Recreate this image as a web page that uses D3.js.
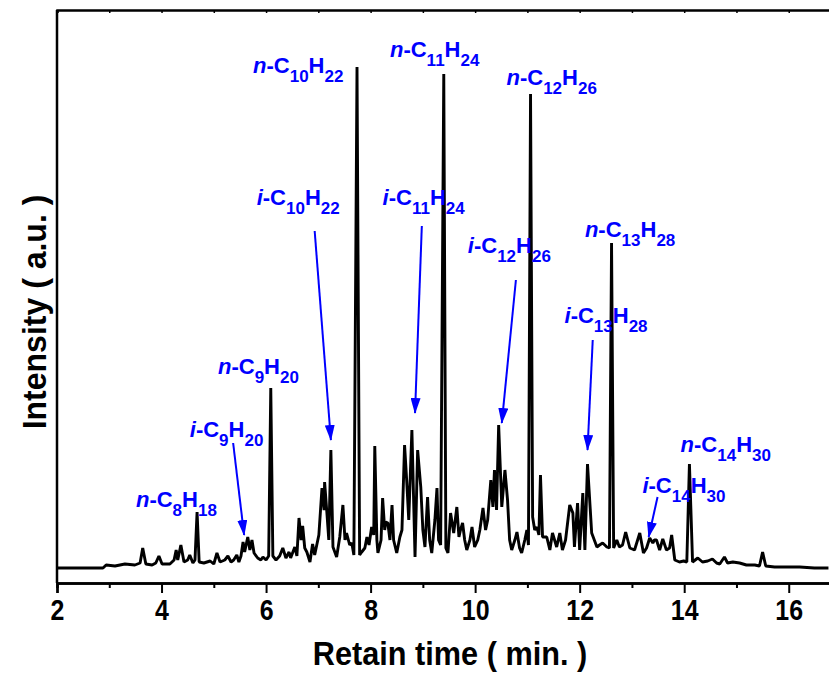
<!DOCTYPE html>
<html>
<head>
<meta charset="utf-8">
<script src="https://cdn.jsdelivr.net/npm/d3@7"></script>
<style>
  body { margin: 0; background: #fff; }
  svg { display: block; }
  .axis-title { font-family: "Liberation Sans", Arial, sans-serif; font-weight: bold; }
  .tick-label { font-family: "Liberation Sans", Arial, sans-serif; font-weight: bold; }
  .peak-label { font-family: "Liberation Sans", Arial, sans-serif; font-weight: bold; fill: #0000ff; }
</style>
</head>
<body>
<div id="chart"></div>
<script>
// retention time (min) and detector intensity (a.u.)
const retTime = [2.00,2.88,2.94,3.11,3.30,3.49,3.59,3.64,3.70,3.82,3.89,3.95,4.01,4.16,4.24,4.28,4.31,4.37,4.43,4.50,
  4.54,4.60,4.64,4.68,4.72,4.81,4.93,5.00,5.06,5.12,5.21,5.27,5.33,5.38,5.44,5.48,5.52,5.56,5.59,5.65,
  5.69,5.73,5.77,5.84,5.90,5.94,6.00,6.05,6.09,6.13,6.19,6.26,6.32,6.38,6.44,6.47,6.55,6.59,6.63,6.67,
  6.70,6.74,6.78,6.84,6.89,6.93,6.97,7.01,7.07,7.11,7.12,7.16,7.20,7.24,7.28,7.35,7.41,7.47,7.51,7.54,
  7.60,7.64,7.68,7.74,7.79,7.83,7.89,7.93,7.97,8.02,8.06,8.08,8.12,8.14,8.20,8.23,8.27,8.29,8.33,8.37,
  8.41,8.44,8.50,8.56,8.60,8.65,8.69,8.73,8.79,8.85,8.90,8.96,9.00,9.04,9.09,9.13,9.17,9.23,9.27,9.30,
  9.34,9.40,9.44,9.48,9.53,9.59,9.65,9.69,9.72,9.76,9.80,9.84,9.90,9.94,9.99,10.05,10.09,10.15,10.20,10.24,
  10.30,10.34,10.37,10.41,10.45,10.51,10.57,10.62,10.66,10.70,10.76,10.80,10.85,10.89,10.95,10.99,11.02,11.06,11.10,11.14,
  11.18,11.22,11.25,11.29,11.37,11.43,11.48,11.56,11.62,11.67,11.73,11.81,11.87,11.90,11.96,12.00,12.06,12.10,12.15,12.23,
  12.33,12.38,12.44,12.52,12.57,12.61,12.65,12.71,12.76,12.82,12.88,12.96,13.05,13.15,13.22,13.28,13.34,13.40,13.43,13.47,
  13.53,13.59,13.66,13.72,13.76,13.82,13.91,13.99,14.05,14.10,14.16,14.26,14.35,14.45,14.54,14.62,14.68,14.77,14.83,14.93,
  15.06,15.19,15.35,15.44,15.50,15.56,15.73,15.96,16.21,16.49,16.76];
const intensity = [0,0,3,2,4,3,5,20,4,3,5,12,4,4,8,18,8,23,6,8,
  13,5,8,56,6,5,7,4,15,6,8,12,6,8,13,6,12,26,16,31,
  18,28,15,10,8,11,8,12,180,12,8,12,20,10,16,10,21,12,50,28,
  42,20,16,6,24,13,23,33,80,58,86,58,28,118,21,11,31,63,28,35,
  23,25,13,501,13,16,20,31,23,41,33,122,28,15,28,70,38,46,45,28,
  63,28,15,31,38,123,88,48,138,11,118,81,38,21,71,28,15,48,80,28,
  23,494,20,15,55,35,61,31,38,45,28,18,28,41,21,28,38,60,38,48,
  88,61,98,58,143,61,98,68,28,18,28,36,20,15,28,38,23,474,51,38,
  41,33,93,31,31,18,35,21,35,18,28,63,55,21,65,18,75,18,104,35,
  21,23,25,21,20,325,20,28,21,23,36,20,18,35,15,20,30,25,28,28,
  18,29,18,20,33,8,6,7,6,104,6,10,6,7,9,5,4,11,5,6,
  5,3,3,2,16,2,1,1,1,0,0];

const xTicks = [2, 4, 6, 8, 10, 12, 14, 16];

// peak names: prefix, carbon count, hydrogen count; label anchor (time, intensity)
const labelPrefix = ["n", "i", "n", "i", "n", "n", "i", "n", "i", "n", "i", "n", "i"];
const labelC = ["8", "9", "9", "10", "10", "11", "11", "12", "12", "13", "13", "14", "14"];
const labelH = ["18", "20", "20", "22", "22", "24", "24", "26", "26", "28", "28", "30", "30"];
const labelTime = [3.51, 4.54, 5.08, 5.82, 5.75, 8.37, 8.23, 10.60, 9.86, 12.10, 11.71, 13.93, 13.20];
const labelInt = [61, 131, 194, 363, 495, 511, 363, 483, 315, 331, 245, 116, 75];

// arrows from iso labels to their peaks (time, intensity)
const arrowFromT = [5.37, 6.93, 8.98, 10.78, 12.25, 13.49];
const arrowFromI = [125, 337, 342, 288, 228, 71];
const arrowToT = [5.58, 7.24, 8.85, 10.51, 12.15, 13.32];
const arrowToI = [33, 128, 155, 145, 118, 31];

const W = 829, H = 673;
const margin = { top: 10, right: -12, bottom: 90, left: 57 };
const width = W - margin.left - margin.right,
      height = H - margin.top - margin.bottom;

const svg = d3.select("#chart").append("svg")
  .attr("width", W).attr("height", H);

const g = svg.append("g")
  .attr("transform", `translate(${margin.left},${margin.top})`);

const x = d3.scaleLinear().domain([2, 17]).range([0, width]);
const y = d3.scaleLinear().domain([-15, 558]).range([height, 0]);

const trace = retTime.map((t, i) => ({ t: t, v: intensity[i] }));

g.append("defs").append("marker")
  .attr("id", "arrowhead")
  .attr("markerUnits", "userSpaceOnUse")
  .attr("viewBox", "0 0 16 10")
  .attr("markerWidth", 16).attr("markerHeight", 10)
  .attr("refX", 15).attr("refY", 5)
  .attr("orient", "auto")
  .append("path")
  .attr("d", "M0,0 L16,5 L0,10 Z")
  .attr("fill", "#0000ff");

// signal
g.append("path")
  .datum(trace)
  .attr("fill", "none")
  .attr("stroke", "#000")
  .attr("stroke-width", 2.9)
  .attr("stroke-linejoin", "bevel")
  .attr("d", d3.line().x(d => x(d.t)).y(d => y(d.v)));

// bottom axis: major + minor ticks
const xAxisBottom = g.append("g").attr("transform", `translate(0,${height})`);
xAxisBottom.append("g")
  .call(d3.axisBottom(x).tickValues(d3.range(3, 17, 2)).tickSize(5).tickFormat(""));
xAxisBottom.append("g")
  .call(d3.axisBottom(x).tickValues(xTicks).tickSize(10).tickPadding(6));
xAxisBottom.selectAll("path.domain").attr("stroke-width", 2.5);
xAxisBottom.selectAll(".tick line").attr("stroke-width", 2);
xAxisBottom.selectAll(".tick text")
  .attr("class", "tick-label")
  .attr("font-size", 29)
  .attr("transform", "scale(0.86,1)")
  .attr("fill", "#000");

// top axis: short inward ticks, no labels
const xAxisTop = g.append("g");
xAxisTop.call(d3.axisTop(x).ticks(15).tickSize(-3).tickFormat(""));
xAxisTop.selectAll("path.domain").attr("stroke-width", 2.5);
xAxisTop.selectAll(".tick line").attr("stroke-width", 1.5);

// left axis: plain line
g.append("line")
  .attr("x1", 0).attr("x2", 0)
  .attr("y1", 0).attr("y2", height)
  .attr("stroke", "#000").attr("stroke-width", 2.5);

// arrows
g.selectAll(".arrow")
  .data(arrowFromT)
  .join("line")
  .attr("class", "arrow")
  .attr("x1", (d, i) => x(d))
  .attr("y1", (d, i) => y(arrowFromI[i]))
  .attr("x2", (d, i) => x(arrowToT[i]))
  .attr("y2", (d, i) => y(arrowToI[i]))
  .attr("stroke", "#0000ff")
  .attr("stroke-width", 2)
  .attr("marker-end", "url(#arrowhead)");

// peak labels
const labels = g.selectAll(".peak-label")
  .data(labelPrefix)
  .join("text")
  .attr("class", "peak-label")
  .attr("x", (d, i) => x(labelTime[i]))
  .attr("y", (d, i) => y(labelInt[i]))
  .attr("font-size", 22);

labels.each(function (d, i) {
  const t = d3.select(this);
  t.append("tspan").attr("font-style", "italic").text(d);
  t.append("tspan").text("-C");
  t.append("tspan").attr("font-size", 17).attr("dy", 9).text(labelC[i]);
  t.append("tspan").attr("dy", -9).text("H");
  t.append("tspan").attr("font-size", 17).attr("dy", 9).text(labelH[i]);
});

// axis titles
svg.append("text")
  .attr("class", "axis-title")
  .attr("transform", "translate(450,665) scale(0.93,1)")
  .attr("text-anchor", "middle")
  .attr("font-size", 33)
  .text("Retain time ( min. )");

svg.append("text")
  .attr("class", "axis-title")
  .attr("transform", "translate(46,312) rotate(-90) scale(0.97,1)")
  .attr("text-anchor", "middle")
  .attr("font-size", 33)
  .text("Intensity ( a.u. )");
</script>
</body>
</html>
